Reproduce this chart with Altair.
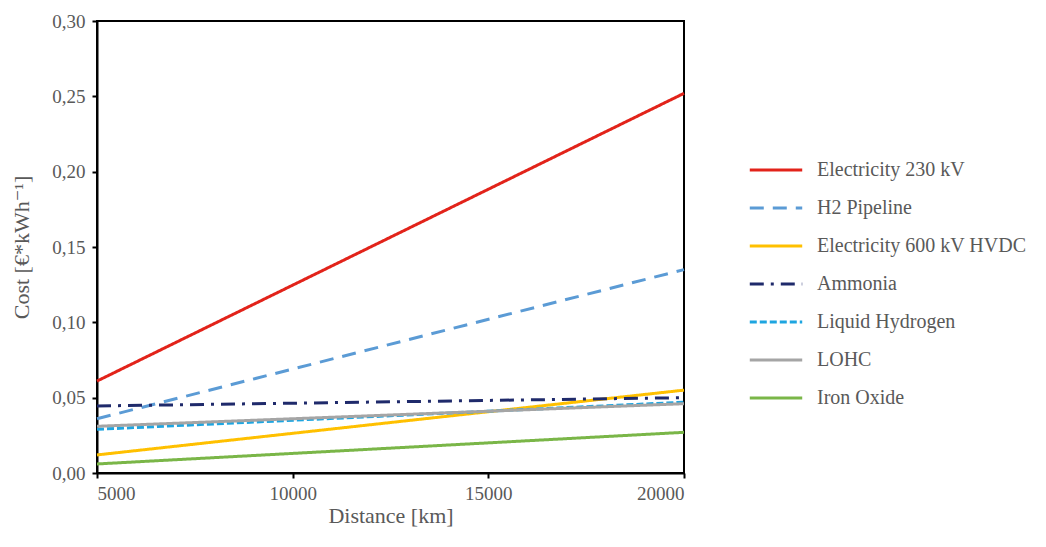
import altair as alt
import pandas as pd

series = ["Electricity 230 kV", "H2 Pipeline", "Electricity 600 kV HVDC", "Ammonia",
          "Liquid Hydrogen", "LOHC", "Iron Oxide"]
distance = [5000, 20000]
cost_start = [0.061, 0.036, 0.012, 0.0445, 0.029, 0.031, 0.006]
cost_end = [0.252, 0.135, 0.055, 0.050, 0.047, 0.046, 0.027]
colors = ["#E2231A", "#5B9BD5", "#FFC000", "#1F2A6B", "#1EA5E0", "#A5A5A5", "#7AB648"]
dashes = [[1, 0], [14, 9], [1, 0], [14, 7, 3, 7], [7, 3], [1, 0], [1, 0]]

rows = []
for i, s in enumerate(series):
    rows.append({"series": s, "distance": distance[0], "cost": cost_start[i]})
    rows.append({"series": s, "distance": distance[1], "cost": cost_end[i]})
df = pd.DataFrame(rows)

font = "'Times New Roman', 'Liberation Serif', 'DejaVu Serif', serif"
legend = alt.Legend(
    title=None, orient="none", legendX=651, legendY=121,
    symbolType="stroke", symbolSize=2750, symbolStrokeWidth=3,
    labelFont=font, labelFontSize=20, labelColor="#595959",
    rowPadding=0, labelOffset=13, labelLimit=400,
)

chart = alt.Chart(df).mark_line(strokeWidth=3).encode(
    x=alt.X("distance:Q", title="Distance [km]",
            scale=alt.Scale(domain=[5000, 20000], nice=False),
            axis=alt.Axis(values=[5000, 10000, 15000, 20000], format="d", grid=False,
                          domainColor="black", domainWidth=2, tickColor="black",
                          tickWidth=2, tickSize=5,
                          labelFont=font, labelFontSize=19, labelColor="#595959",
                          labelPadding=6, titleFont=font, titleFontSize=22,
                          titleFontWeight="normal", titleColor="#595959", titlePadding=2)),
    y=alt.Y("cost:Q", title="Cost [€*kWh⁻¹]",
            scale=alt.Scale(domain=[0, 0.30], nice=False),
            axis=alt.Axis(values=[0, 0.05, 0.10, 0.15, 0.20, 0.25, 0.30], format=".2f",
                          labelExpr="replace(datum.label, '.', ',')", grid=False,
                          domainColor="black", domainWidth=2, tickColor="black",
                          tickWidth=2, tickSize=5,
                          labelFont=font, labelFontSize=19, labelColor="#595959",
                          labelPadding=7, titleFont=font, titleFontSize=22,
                          titleFontWeight="normal", titleColor="#595959", titlePadding=18)),
    color=alt.Color("series:N", scale=alt.Scale(domain=series, range=colors), legend=legend,
                    sort=series),
    strokeDash=alt.StrokeDash("series:N", scale=alt.Scale(domain=series, range=dashes),
                              legend=legend, sort=series),
).properties(
    width=587, height=452,
    padding={"left": 2, "top": 4, "right": 5, "bottom": 5},
).configure(
    background="white", font=font
).configure_view(
    stroke="black", strokeWidth=2
).configure_axis(
    labelFont=font, titleFont=font
).configure_legend(
    labelFont=font
)

chart.save("out.html", embed_options={"renderer": "svg", "actions": False})
